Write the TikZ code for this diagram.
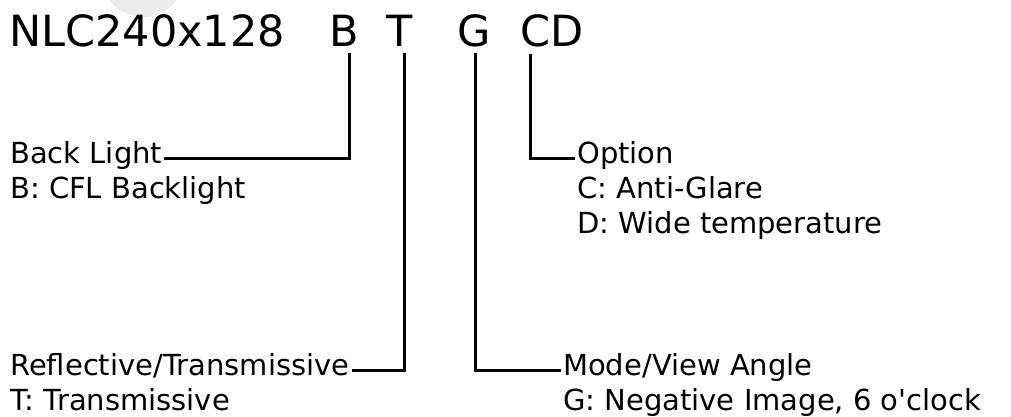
\documentclass[tikz,border=0pt]{standalone}
\usepackage{fontspec}
\setmainfont{DejaVu Sans}
\newfontfamily\plainvera{DejaVu Sans}
\definecolor{wmgray}{RGB}{236,236,236}
\tikzset{
  titletext/.style={inner sep=0pt, anchor=base west, font=\plainvera\fontsize{43}{50}\selectfont},
  labeltext/.style={inner xsep=2pt, inner ysep=0pt, anchor=base west, font=\plainvera\fontsize{29}{34}\selectfont},
  conn/.style={line width=3pt, black},
}
\begin{document}
\begin{tikzpicture}[x=1pt,y=-1pt]
\useasboundingbox (0,0) rectangle (1011,417);
% faint watermark remnant
\fill[wmgray] (143,-24.5) circle (41.5);
% title
\node[titletext] (model) at (9,47) {NLC240x128};
\node[titletext] (tB) at (329,47) {B};
\node[titletext] (tT) at (386,47) {T};
\node[titletext] (tG) at (457,47) {G};
\node[titletext] (tCD) at (520,47) {CD};
% connector tops
\coordinate (cB) at (349,53);
\coordinate (cT) at (404,53);
\coordinate (cG) at (475,53);
\coordinate (cCD) at (530,54);
% labels
\node[labeltext] (bl) at (8,163) {Back Light};
\node[labeltext] (bl2) at (8,198) {B: CFL Backlight};
\node[labeltext] (opt) at (575,163) {Option};
\node[labeltext] (opt2) at (575,198) {C: Anti-Glare};
\node[labeltext] (opt3) at (575,233) {D: Wide temperature};
\node[labeltext] (rt) at (8,375) {Reflective/Transmissive};
\node[labeltext] (rt2) at (8,410) {T: Transmissive};
\node[labeltext] (mv) at (561,375) {Mode/View Angle};
\node[labeltext] (mv2) at (561,410) {G: Negative Image, 6 o'clock};
% connectors
\draw[conn] (cB) |- ([yshift=2pt]bl.mid east);
\draw[conn] (cT) |- ([yshift=2pt]rt.mid east);
\draw[conn] (cG) |- ([yshift=2pt]mv.mid west);
\draw[conn] (cCD) |- ([yshift=2pt]opt.mid west);
\end{tikzpicture}
\end{document}
